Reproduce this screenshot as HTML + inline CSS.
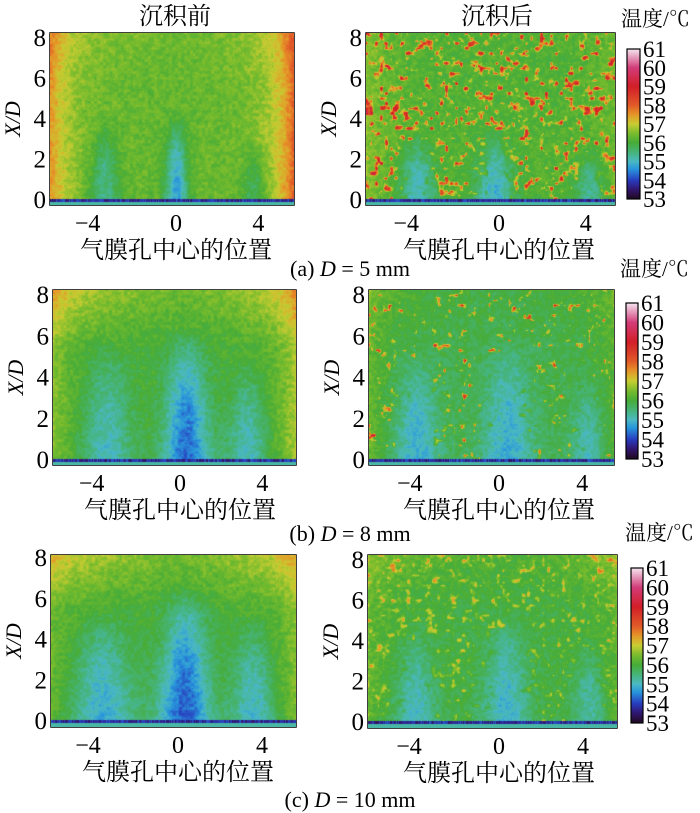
<!DOCTYPE html>
<html><head><meta charset="utf-8">
<style>
html,body{margin:0;padding:0;background:#fff;}
#wrap{position:relative;width:700px;height:813px;overflow:hidden;background:#fff;}
canvas{position:absolute;}
svg{position:absolute;left:0;top:0;}
</style></head>
<body>
<div id="wrap">
<svg id="ov" width="700" height="813"></svg>
</div>
<script>
// ---- data arrays ----
const panelIds = ['a-before','a-after','b-before','b-after','c-before','c-after'];
const baseTemp = [56.3, 56.1, 56.0, 55.8, 56.0, 55.9];
const leftEdgeTemp = [57.5, 56.6, 56.6, 56.3, 56.4, 56.3];
const rightEdgeTemp = [58.0, 56.4, 56.9, 56.2, 56.6, 56.3];
const topTemp = [0.2, 0.0, 0.8, 0.2, 0.9, 0.4];
const jetX = [[-3.5,0,3.8],[-3.8,-0.2,4.2],[-3.6,0.3,3.3],[-4.0,0.4,4.3],[-3.6,0.3,3.6],[-4.0,0.3,4.3]];
const jetDepth = [[1.0,1.6,0.8],[1.2,1.2,0.9],[1.0,1.7,1.0],[1.0,1.0,0.8],[1.2,1.8,1.1],[0.9,1.0,0.8]];
const jetWidth = [[0.8,0.6,0.7],[0.9,0.9,0.8],[1.3,1.2,1.1],[1.2,1.3,0.9],[1.6,1.3,1.2],[1.1,1.2,0.9]];
const jetLength = [[4.2,4.5,3.0],[3.4,3.6,2.8],[5.8,6.5,5.0],[5.5,6.0,4.2],[5.5,6.8,5.2],[4.8,5.5,4.2]];
const speckleAmp = [0.3, 2.6, 0.25, 3.0, 0.25, 1.3];
const speckleThresh = [0.6, 0.6, 0.6, 0.7, 0.6, 0.64];
const tickX = [-4, 0, 4];
const tickY = [0, 2, 4, 6, 8];
const cbValues = [61,60,59,58,57,56,55,54,53];
// ---- geometry ----
const geo = [
 {bx:50,by:33,bw:244,bh:172,x0:176,sx:20.6,y0:200,y8:38},
 {bx:366,by:33,bw:249,bh:172,x0:499,sx:21.7,y0:200,y8:38},
 {bx:53,by:290,bw:243,bh:175,x0:180,sx:20.6,y0:460,y8:295},
 {bx:369,by:290,bw:245,bh:175,x0:499,sx:20.8,y0:460,y8:295},
 {bx:51,by:555,bw:245,bh:172,x0:178,sx:21,y0:721,y8:558},
 {bx:368,by:555,bw:249,bh:173,x0:499,sx:21,y0:722,y8:560}
];
const cbGeo = [{x:627,y:49,w:13,h:150,ty:26},{x:626,y:303,w:12,h:156,ty:276},{x:631,y:568,w:12,h:155,ty:540}];

const cmapT=[53,53.5,54,54.6,55,55.5,56,56.5,57,57.5,58,59,60,61];
const cmapC=[[30,10,30],[50,20,110],[40,60,190],[40,150,220],[75,185,195],[70,180,120],[70,172,55],[120,188,45],[200,205,50],[230,150,40],[225,90,40],[210,30,40],[210,60,120],[245,230,240]];
function cmap(t){
  if(t<=cmapT[0])return cmapC[0];
  for(let i=1;i<cmapT.length;i++){ if(t<=cmapT[i]){const f=(t-cmapT[i-1])/(cmapT[i]-cmapT[i-1]);const a=cmapC[i-1],b=cmapC[i];return [a[0]+(b[0]-a[0])*f,a[1]+(b[1]-a[1])*f,a[2]+(b[2]-a[2])*f];}}
  return cmapC[cmapC.length-1];
}
function hash(i,j,s){let h=(i*374761393+j*668265263+s*2147483647)|0;h=(h^(h>>>13))*1274126177|0;return ((h^(h>>>16))>>>0)/4294967296;}
function smooth(x,y,s,c){const i=Math.floor(x/c),j=Math.floor(y/c);let fx=x/c-i,fy=y/c-j;
 fx=fx*fx*(3-2*fx);fy=fy*fy*(3-2*fy);
 const a=hash(i,j,s),b=hash(i+1,j,s),d=hash(i,j+1,s),e=hash(i+1,j+1,s);
 return (a*(1-fx)+b*fx)*(1-fy)+(d*(1-fx)+e*fx)*fy;}

const wrap=document.getElementById('wrap');
const ov=document.getElementById('ov');
const NS='http://www.w3.org/2000/svg';
function mk(tag,attrs,txt){const e=document.createElementNS(NS,tag);for(const k in attrs)e.setAttribute(k,attrs[k]);if(txt!==undefined)e.textContent=txt;ov.appendChild(e);return e;}
const SERIF='Liberation Serif, Noto Serif CJK SC, serif';

geo.forEach((g,p)=>{
  const xs=v=>g.x0+v*g.sx, ys=v=>g.y0+(g.y8-g.y0)*v/8;
  const ix=px=>(px-g.x0)/g.sx, iy=py=>(py-g.y0)/((g.y8-g.y0)/8);
  const cv=document.createElement('canvas');
  cv.width=g.bw;cv.height=g.bh;cv.style.left=g.bx+'px';cv.style.top=g.by+'px';
  
  
  wrap.appendChild(cv);
  const ctx=cv.getContext('2d');const img=ctx.createImageData(g.bw,g.bh);
  const xmin=ix(g.bx),xmax=ix(g.bx+g.bw);
  const th=speckleThresh[p];
  for(let py=0;py<g.bh;py++){for(let px=0;px<g.bw;px++){
    const X=ix(g.bx+px),Y=iy(g.by+py);
    let T=baseTemp[p];
    const el=Math.exp(-(X-xmin)/1.0), er=Math.exp(-(xmax-X)/1.0);
    T+=(leftEdgeTemp[p]-baseTemp[p])*el+(rightEdgeTemp[p]-baseTemp[p])*er;
    T+=topTemp[p]*Math.max(0,(Y-5.5)/2.5)*(0.4+0.6*Math.max(el,er,Math.abs(X)/6));
    for(let k=0;k<jetX[p].length;k++){
      const dx=(X-jetX[p][k])/jetWidth[p][k];
      const L=jetLength[p][k];
      const yd=Y<0?1:Math.max(0,1-Math.pow(Y/L,2));
      T-=jetDepth[p][k]*Math.exp(-dx*dx*(1+Y/L))*yd;
    }
    T+=(smooth(px,py,p+1,3)-0.5)*0.5+(hash(px,py,p+7)-0.5)*0.25;
    if(speckleAmp[p]>0.5){
      const n=0.65*smooth(px,py,p+20,5)+0.35*smooth(px,py,p+40,2.5);
      let jetMask=1;for(let k=0;k<jetX[p].length;k++){const d=(X-jetX[p][k])/jetWidth[p][k];if(Y<jetLength[p][k]*0.85)jetMask*=1-0.95*Math.exp(-d*d*1.2);}
      if(n>th)T+=speckleAmp[p]*Math.min(1,(n-th)/0.22)*jetMask;
    }
    if(Math.abs(Y)<0.07)T=53.4+0.8*hash(px,0,p);
    else if(Y<0)T=55.2;
    const c=cmap(T);const o=(py*g.bw+px)*4;
    img.data[o]=c[0];img.data[o+1]=c[1];img.data[o+2]=c[2];img.data[o+3]=255;
  }}
  ctx.putImageData(img,0,0);
  mk('rect',{x:g.bx,y:g.by,width:g.bw,height:g.bh,fill:'none',stroke:'#000','stroke-width':1.5,});
  for(let v=0;v<=8;v++){mk('line',{x1:g.bx,x2:g.bx+5,y1:ys(v),y2:ys(v),stroke:'#000','stroke-width':1.2,});}
  tickY.forEach(v=>mk('text',{x:g.bx-4,y:ys(v)+8,'text-anchor':'end','font-size':25,'font-family':SERIF,},String(v)));
  tickX.forEach(v=>{mk('line',{x1:xs(v),x2:xs(v),y1:g.by+g.bh,y2:g.by+g.bh-6,stroke:'#000','stroke-width':1.2,});
    mk('text',{x:xs(v)-(v<0?6:0),y:g.by+g.bh+26,'text-anchor':'middle','font-size':24,'font-family':SERIF,},v<0?'\u2212'+Math.abs(v):String(v));});
  mk('text',{x:0,y:0,transform:`translate(${g.bx-30},${(g.by+g.bh/2)}) rotate(-90)`,'text-anchor':'middle','font-size':22,'font-style':'italic','font-family':SERIF,},'X/D');
  mk('text',{x:g.x0,y:g.by+g.bh+53,'text-anchor':'middle','font-size':24,'font-family':SERIF,},'气膜孔中心的位置');
});
mk('text',{x:175,y:24,'text-anchor':'middle','font-size':24,'font-family':SERIF,},'沉积前');
mk('text',{x:497,y:24,'text-anchor':'middle','font-size':24,'font-family':SERIF,},'沉积后');
const caps=[['(a)','5',276],['(b)','8',541],['(c)','10',807]];
caps.forEach((c,i)=>{const t=mk('text',{x:350,y:c[2],'text-anchor':'middle','font-size':22,'font-family':SERIF,});
  t.innerHTML=`${c[0]} <tspan font-style="italic">D</tspan> = ${c[1]} mm`;});
cbGeo.forEach((b,i)=>{
  const gid='cbg'+i;
  const defs=mk('defs',{});const lg=document.createElementNS(NS,'linearGradient');lg.setAttribute('id',gid);lg.setAttribute('x1','0');lg.setAttribute('y1','1');lg.setAttribute('x2','0');lg.setAttribute('y2','0');defs.appendChild(lg);
  for(let k=0;k<=40;k++){const t=53+8*k/40;const c=cmap(t);const s=document.createElementNS(NS,'stop');s.setAttribute('offset',k/40);s.setAttribute('stop-color',`rgb(${c.map(Math.round).join(',')})`);lg.appendChild(s);}
  mk('rect',{x:b.x,y:b.y,width:b.w,height:b.h,fill:`url(#${gid})`,stroke:'#000','stroke-width':1.2,});
  cbValues.forEach((v,k)=>mk('text',{x:b.x+b.w+3,y:b.y+8+(b.h)*k/8,'font-size':23,'font-family':SERIF,},String(v)));
  mk('text',{x:b.x-6,y:b.ty,'font-size':21,'font-family':SERIF,},'温度/℃');
});
</script>
</body></html>
